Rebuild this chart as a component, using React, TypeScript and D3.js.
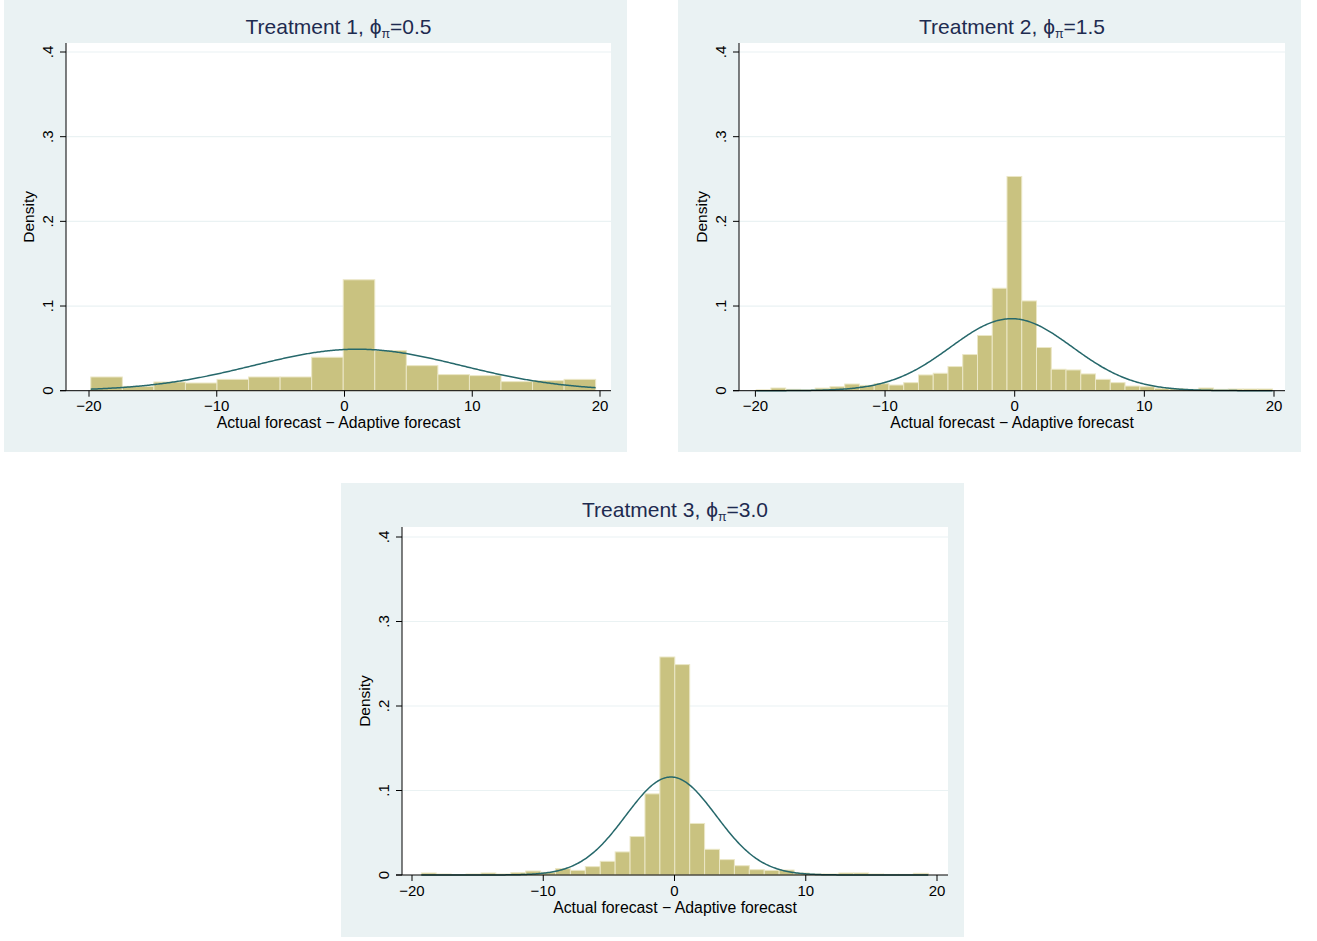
import React from "react";
import * as d3 from "d3";

// ---------- data ----------
const xTicks = [-20, -10, 0, 10, 20];
const yTicks = [0, 0.1, 0.2, 0.3, 0.4];
const yTickLabels = ["0", ".1", ".2", ".3", ".4"];

const titles = ["Treatment 1, ", "Treatment 2, ", "Treatment 3, "];
const phiValues = ["=0.5", "=1.5", "=3.0"];

const t1Start = -19.86;
const t1Width = 2.47;
const t1Density = [
  0.0162, 0.0051, 0.0103, 0.0091, 0.0134, 0.0162, 0.0162, 0.0395, 0.131, 0.0474,
  0.0296, 0.019, 0.0178, 0.0107, 0.0119, 0.0134,
];
const t1Mean = 1.0;
const t1Sd = 8.14;

const t2Start = -19.94;
const t2Width = 1.138;
const t2Density = [
  0.001, 0.0032, 0.0016, 0.001, 0.003, 0.0047, 0.0079, 0.0063, 0.0083, 0.0067,
  0.0095, 0.0186, 0.0206, 0.0285, 0.0427, 0.0652, 0.121, 0.253, 0.106, 0.051,
  0.0253, 0.0245, 0.0198, 0.0134, 0.0095, 0.0055, 0.0047, 0.0028, 0.0024, 0.0016,
  0.0032, 0.0016, 0.002, 0.002, 0.002,
];
const t2Mean = -0.25;
const t2Sd = 4.69;

const t3Start = -19.29;
const t3Width = 1.136;
const t3Density = [
  0.0024, 0.0012, 0.0004, 0.0012, 0.0024, 0.0012, 0.0028, 0.0047, 0.0032, 0.0075,
  0.0055, 0.0099, 0.0162, 0.0273, 0.0455, 0.096, 0.258, 0.249, 0.061, 0.0304,
  0.0182, 0.011, 0.0063, 0.0055, 0.0059, 0.0024, 0.0012, 0.0012, 0.0024, 0.0024,
  0.0012, 0.0008, 0.0008, 0.002,
];
const t3Mean = -0.27;
const t3Sd = 3.44;

// ---------- layout ----------
const layouts = [
  { bg: [4, 0, 623, 452], plot: [66, 611, 43, 390.7], x0: 89, x1: 600, y0: 390.7, y1: 52 },
  { bg: [678, 0, 623, 452], plot: [739, 1285, 43, 390.7], x0: 755.4, x1: 1274, y0: 390.7, y1: 52 },
  { bg: [341, 483, 623, 454], plot: [402, 948, 527, 875], x0: 412, x1: 937, y0: 875, y1: 537 },
];

const panelsData = [
  { start: t1Start, width: t1Width, dens: t1Density, mean: t1Mean, sd: t1Sd },
  { start: t2Start, width: t2Width, dens: t2Density, mean: t2Mean, sd: t2Sd },
  { start: t3Start, width: t3Width, dens: t3Density, mean: t3Mean, sd: t3Sd },
];

const BG = "#eaf2f3";
const BAR = "#c9c280";
const BAR_EDGE = "#ebe7c6";
const CURVE = "#26686b";
const TITLE = "#1e2b50";
const FONT = "'Liberation Sans', Arial, Helvetica, sans-serif";

function Panel({ idx }: { idx: number }) {
  const L = layouts[idx];
  const D = panelsData[idx];
  const [bx, by, bw, bh] = L.bg;
  const [pl, pr, pt, pb] = L.plot;
  const x = d3.scaleLinear().domain([-20, 20]).range([L.x0, L.x1]);
  const y = d3.scaleLinear().domain([0, 0.4]).range([L.y0, L.y1]);
  const end = D.start + D.width * D.dens.length;
  const pdf = (v: number) =>
    Math.exp(-((v - D.mean) ** 2) / (2 * D.sd * D.sd)) / (D.sd * Math.sqrt(2 * Math.PI));
  const pts = d3.range(0, 401).map((i) => D.start + ((end - D.start) * i) / 400);
  const line = d3
    .line<number>()
    .x((v) => x(v))
    .y((v) => y(pdf(v)))
    .curve(d3.curveLinear);
  const cx = (pl + pr) / 2;
  const cy = (pt + pb) / 2;
  return (
    <g>
      <rect x={bx} y={by} width={bw} height={bh} fill={BG} />
      <rect x={pl} y={pt} width={pr - pl} height={pb - pt} fill="#ffffff" />
      {yTicks.slice(1).map((t) => (
        <line key={t} x1={pl} x2={pr} y1={y(t)} y2={y(t)} stroke={BG} strokeWidth={1.2} />
      ))}
      {D.dens.map((d, i) => {
        const x0 = x(D.start + i * D.width);
        const x1 = x(D.start + (i + 1) * D.width);
        return (
          <rect
            key={i}
            x={x0}
            y={y(d)}
            width={x1 - x0}
            height={y(0) - y(d)}
            fill={BAR}
            stroke={BAR_EDGE}
            strokeWidth={1}
          />
        );
      })}
      <path d={line(pts) || ""} fill="none" stroke={CURVE} strokeWidth={1.5} />
      {/* axes */}
      <line x1={pl} x2={pl} y1={pt} y2={pb} stroke="#000" strokeWidth={1} />
      <line x1={pl - 6} x2={pr} y1={pb} y2={pb} stroke="#000" strokeWidth={1} />
      {yTicks.map((t, i) => (
        <g key={t}>
          <line x1={pl - 6} x2={pl} y1={y(t)} y2={y(t)} stroke="#000" strokeWidth={1} />
          <text
            transform={`translate(${pl - 13},${y(t)}) rotate(-90)`}
            textAnchor="middle"
            fontSize={15}
            fontFamily={FONT}
            fill="#000"
          >
            {yTickLabels[i]}
          </text>
        </g>
      ))}
      {xTicks.map((t) => (
        <g key={t}>
          <line x1={x(t)} x2={x(t)} y1={pb} y2={pb + 6} stroke="#000" strokeWidth={1} />
          <text
            x={x(t)}
            y={pb + 20.5}
            textAnchor="middle"
            fontSize={15}
            fontFamily={FONT}
            fill="#000"
          >
            {t < 0 ? "\u2212" + Math.abs(t) : String(t)}
          </text>
        </g>
      ))}
      <text
        transform={`translate(${pl - 32},${cy}) rotate(-90)`}
        textAnchor="middle"
        fontSize={15.5}
        fontFamily={FONT}
        fill="#000"
      >
        Density
      </text>
      <text x={cx} y={pb + 37.5} textAnchor="middle" fontSize={15.8} fontFamily={FONT} fill="#000">
        Actual forecast {"\u2212"} Adaptive forecast
      </text>
      <text x={cx} y={by + 34} textAnchor="middle" fontSize={21} fontFamily={FONT} fill={TITLE}>
        {titles[idx]}
        {"\u03d5"}
        <tspan fontSize={12.5} dy={4}>
          {"\u03c0"}
        </tspan>
        <tspan dy={-4}>{phiValues[idx]}</tspan>
      </text>
    </g>
  );
}

export default function App() {
  return (
    <svg
      width={1317}
      height={941}
      viewBox="0 0 1317 941"
      style={{ position: "absolute", left: 0, top: 0, background: "#fff" }}
    >
      <rect x={0} y={0} width={1317} height={941} fill="#fff" />
      {[0, 1, 2].map((i) => (
        <Panel key={i} idx={i} />
      ))}
    </svg>
  );
}
